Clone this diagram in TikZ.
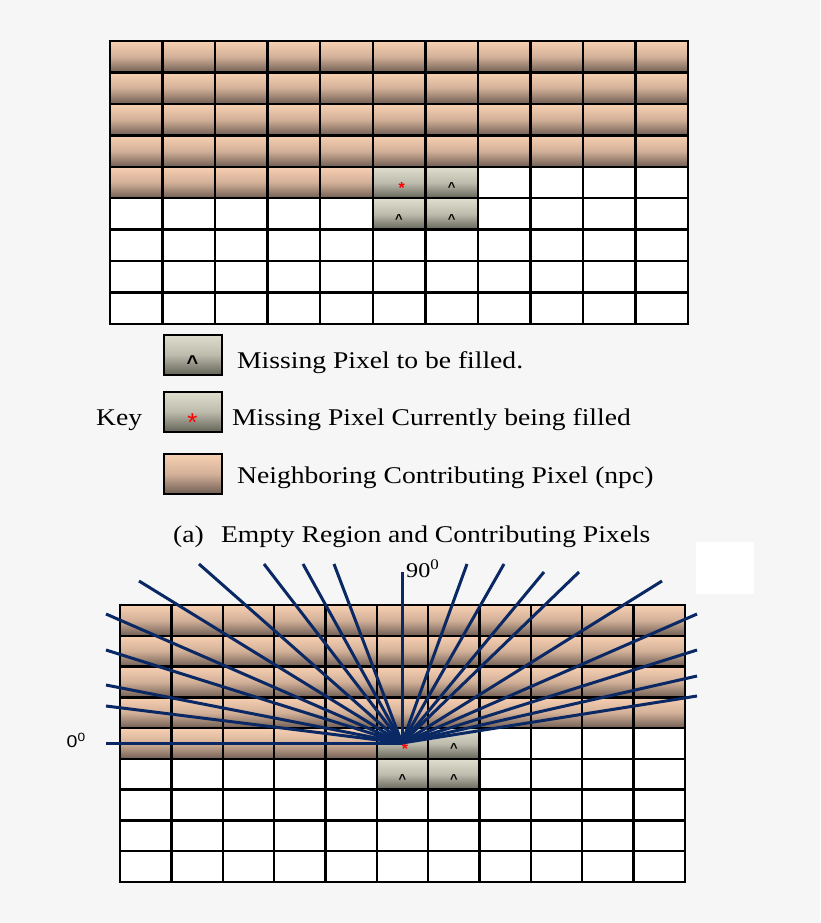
\documentclass[tikz,border=0pt]{standalone}
\usepackage{fontspec}
\setmainfont{Liberation Serif}
\newfontfamily\arialfont{Liberation Sans}
\usetikzlibrary{positioning}

\definecolor{pagebg}{RGB}{246,246,246}
\definecolor{npctop}{RGB}{248,208,178}
\definecolor{npcbot}{RGB}{112,94,84}
\definecolor{misstop}{RGB}{224,222,206}
\definecolor{missbot}{RGB}{100,100,88}
\definecolor{raycol}{RGB}{10,40,100}

\newcommand{\keyfont}{\fontsize{24}{28}\selectfont}
\newcommand{\wide}[1]{\scalebox{1.15}[1]{#1}}

\tikzset{
  npc/.style={top color=npctop, bottom color=npcbot, middle color=npctop!72!npcbot},
  misspix/.style={top color=misstop, bottom color=missbot, middle color=misstop!72!missbot},
  gridline/.style={line width=2.4pt, black, line cap=rect},
  keybox/.style={draw=black, line width=2pt},
  keytext/.style={anchor=base west, inner sep=0pt, font=\keyfont},
  cellmark/.style={anchor=base, inner sep=0pt, font=\arialfont\bfseries\fontsize{13}{13}\selectfont},
  keymark/.style={anchor=base, inner sep=0pt, font=\arialfont\bfseries\fontsize{20}{20}\selectfont},
  ray/.style={line width=3pt, raycol},
}

% one 11 x 9 pixel block: x0, y0, cell width, cell height, name prefix
\newcommand{\pixgrid}[5]{%
  \begin{scope}[shift={(#1,#2)}, x=#3pt, y=-#4pt]
    \fill[white] (0,0) rectangle (11,9);
    % neighboring contributing pixels
    \foreach \col in {0,...,10}
      \foreach \row in {0,...,3}
        \shade[npc] (\col,\row) rectangle ++(1,1);
    \foreach \col in {0,...,4}
      \shade[npc] (\col,4) rectangle ++(1,1);
    % missing pixels
    \foreach \col in {5,6}
      \foreach \row in {4,5}
        \shade[misspix] (\col,\row) rectangle ++(1,1);
    % cell borders
    \foreach \col in {0,...,11}
      \draw[gridline] (\col,0) -- (\col,9);
    \foreach \row in {0,...,9}
      \draw[gridline] (0,\row) -- (11,\row);
    % markers
    \node[cellmark, text=red, font=\arialfont\bfseries\fontsize{16}{16}\selectfont] (#5-cur) at (5.55,4.85) {*};
    \node[cellmark] (#5-ma) at (6.5,4.8) {\textasciicircum};
    \node[cellmark] (#5-mb) at (5.5,5.8) {\textasciicircum};
    \node[cellmark] (#5-mc) at (6.5,5.8) {\textasciicircum};
  \end{scope}}

\begin{document}
\begin{tikzpicture}[x=1pt, y=-1pt]
  \fill[pagebg] (0,0) rectangle (820,923);
  \useasboundingbox (0,0) rectangle (820,923);

  % (a) empty region
  \pixgrid{110}{41}{52.55}{31.44}{a}

  % key
  \shade[misspix] (163.5,334.5) rectangle (221.5,374.5);
  \draw[keybox] (163.5,334.5) rectangle (221.5,374.5);
  \node[keymark] (markfill) at (192.5,369) {\textasciicircum};
  \node[keytext] (txtfill) at (237,368) {\wide{Missing Pixel to be filled.}};

  \node[keytext] (key) at (96,425) {\wide{Key}};
  \shade[misspix] (163.5,391.5) rectangle (221.5,431.5);
  \draw[keybox] (163.5,391.5) rectangle (221.5,431.5);
  \node[keymark, text=red, font=\arialfont\fontsize{26}{26}\selectfont] (markcur) at (192.5,431) {*};
  \node[keytext] (txtcur) at (232,425) {\wide{Missing Pixel Currently being filled}};

  \shade[npc] (163.5,454) rectangle (221.5,494);
  \draw[keybox] (163.5,454) rectangle (221.5,494);
  \node[keytext] (txtnpc) at (237,483) {\wide{Neighboring Contributing Pixel (npc)}};

  \node[keytext] (capa) at (173,542) {\wide{(a)\hspace{15pt}Empty Region and Contributing Pixels}};

  % blank patch
  \fill[white] (696,542) rectangle (754,594);

  % (b) directions
  \pixgrid{120}{605}{51.36}{30.78}{b}

  \coordinate (ctr) at (402,743);
  \foreach \x/\y [count=\i] in {106/743, 106/706, 106/685, 106/650, 106/614,
      139/581, 199/564, 264/564, 303/564, 334/564, 402/572, 467/564, 504/564,
      544/572, 579/572, 662/581, 697/614, 697/650, 697/676, 697/696} {
    \coordinate (ray\i) at (\x,\y);
    \draw[ray] (ctr) -- (ray\i);
  }

  \node[anchor=base west, inner sep=0pt, font=\fontsize{21}{24}\selectfont] (deg90) at (406,577) {\wide{90\textsuperscript{0}}};
  \node[anchor=base west, inner sep=0pt, font=\arialfont\fontsize{17}{20}\selectfont] (deg0) at (66.5,747.5) {\wide{0\textsuperscript{0}}};
\end{tikzpicture}
\end{document}
